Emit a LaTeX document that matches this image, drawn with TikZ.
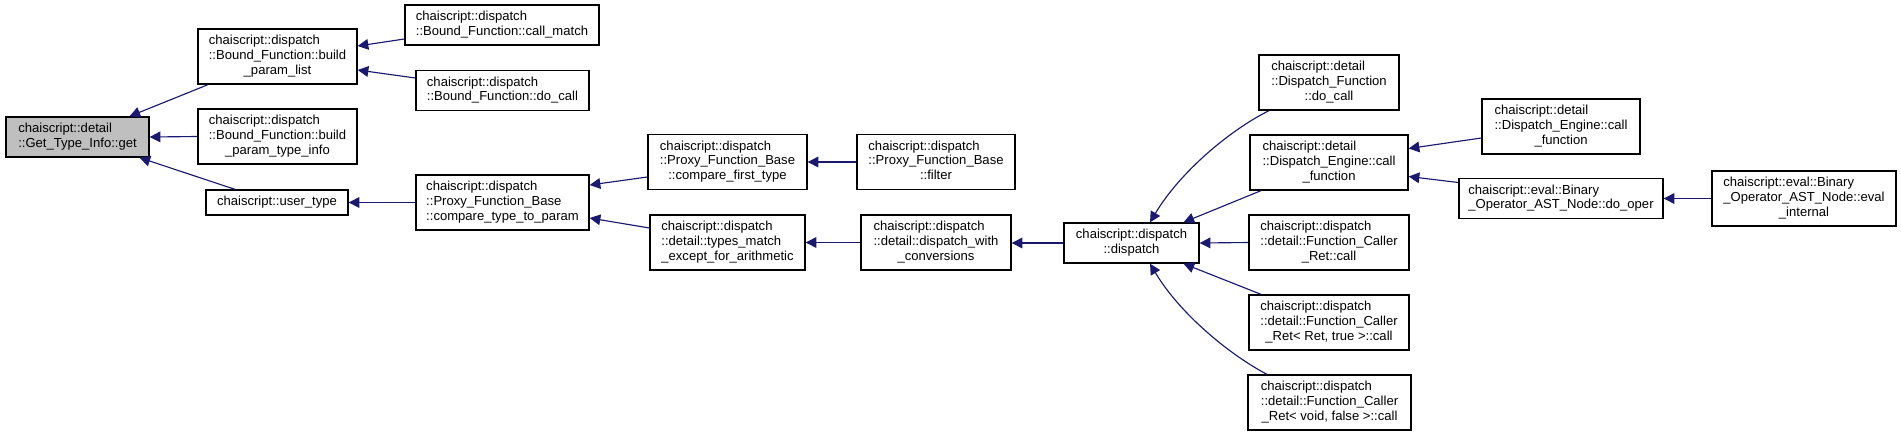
\documentclass[tikz,border=0pt]{standalone}
\usepackage{fontspec}
\setmainfont{Liberation Sans}
\usetikzlibrary{arrows.meta,calc}
\definecolor{edgeblue}{RGB}{25,25,112}
\definecolor{rootgray}{RGB}{191,191,191}
\newcommand\lb[2]{\begin{tabular}{@{}l@{}}#1\\\multicolumn{1}{@{}c@{}}{#2}\end{tabular}}
\tikzset{
  bx/.style 2 args={draw=black, line width=1pt, rectangle, inner sep=0pt, fill=white,
    minimum width=#1*0.75pt, minimum height=#2*0.75pt,
    font=\fontsize{9.8}{11}\selectfont, align=center},
  rootbx/.style={fill=rootgray},
  ar/.style={draw=edgeblue, line width=0.85pt, -{Triangle[length=8pt,width=8pt]}}
}
\begin{document}
\begin{tikzpicture}[x=0.75pt,y=-0.75pt]
\useasboundingbox (0,0) rectangle (1901,436);
\fill[white] (0,0) rectangle (1901,436);
% nodes
\node[bx={143}{40},rootbx] (get) at (77.5,137) {\lb{chaiscript::detail}{::Get\_Type\_Info::get}};
\node[bx={159}{55}] (bpl) at (277.5,56.5) {\lb{chaiscript::dispatch\\::Bound\_Function::build}{\_param\_list}};
\node[bx={159}{55}] (bpti) at (277.5,136.5) {\lb{chaiscript::dispatch\\::Bound\_Function::build}{\_param\_type\_info}};
\node[bx={142}{25}] (ut) at (277,202.5) {chaiscript::user\_type};
\node[bx={194}{40}] (cm) at (502,25) {\lb{chaiscript::dispatch}{::Bound\_Function::call\_match}};
\node[bx={173}{40}] (bdc) at (502.5,90.5) {\lb{chaiscript::dispatch}{::Bound\_Function::do\_call}};
\node[bx={173}{55}] (cttp) at (502.5,202.5) {\lb{chaiscript::dispatch\\::Proxy\_Function\_Base}{::compare\_type\_to\_param}};
\node[bx={159}{55}] (cft) at (727.5,162) {\lb{chaiscript::dispatch\\::Proxy\_Function\_Base}{::compare\_first\_type}};
\node[bx={158}{55}] (fil) at (936,162) {\lb{chaiscript::dispatch\\::Proxy\_Function\_Base}{::filter}};
\node[bx={155}{55}] (tm) at (727.5,242.5) {\lb{chaiscript::dispatch\\::detail::types\_match}{\_except\_for\_arithmetic}};
\node[bx={150}{55}] (dwc) at (936,242.5) {\lb{chaiscript::dispatch\\::detail::dispatch\_with}{\_conversions}};
\node[bx={135}{40}] (dsp) at (1131.5,243) {\lb{chaiscript::dispatch}{::dispatch}};
\node[bx={140}{55}] (dfdc) at (1329,82.5) {\lb{chaiscript::detail\\::Dispatch\_Function}{::do\_call}};
\node[bx={158}{55}] (decf) at (1329,162.5) {\lb{chaiscript::detail\\::Dispatch\_Engine::call}{\_function}};
\node[bx={160}{55}] (fcr) at (1329,242.5) {\lb{chaiscript::dispatch\\::detail::Function\_Caller}{\_Ret::call}};
\node[bx={160}{55}] (fcrt) at (1329,322.5) {\lb{chaiscript::dispatch\\::detail::Function\_Caller}{\_Ret< Ret, true >::call}};
\node[bx={163}{55}] (fcrf) at (1329.5,402.5) {\lb{chaiscript::dispatch\\::detail::Function\_Caller}{\_Ret< void, false >::call}};
\node[bx={158}{55}] (decf2) at (1561,126.5) {\lb{chaiscript::detail\\::Dispatch\_Engine::call}{\_function}};
\node[bx={204}{40}] (dop) at (1561,198.5) {\lb{chaiscript::eval::Binary}{\_Operator\_AST\_Node::do\_oper}};
\node[bx={184}{55}] (evi) at (1804,198.5) {\lb{chaiscript::eval::Binary\\\_Operator\_AST\_Node::eval}{\_internal}};
% edges
\draw[ar] ($(bpl.south)+(-69.5,0)$) -- ($(get.north)+(52,0)$);
\draw[ar] (bpti.west) -- (get.east);
\draw[ar] ($(ut.north)+(-42,0)$) -- ($(get.south)+(62,0)$);
\draw[ar] ($(cm.west)+(0,14)$) -- ($(bpl.east)+(0,-10.5)$);
\draw[ar] ($(bdc.west)+(0,-12.5)$) -- ($(bpl.east)+(0,13.5)$);
\draw[ar] (cttp.west) -- (ut.east);
\draw[ar] ($(cft.west)+(0,15)$) -- ($(cttp.east)+(0,-17.5)$);
\draw[ar] ($(tm.west)+(0,-14.5)$) -- ($(cttp.east)+(0,15.5)$);
\draw[ar] (fil.west) -- (cft.east);
\draw[ar] (dwc.west) -- (tm.east);
\draw[ar] (dsp.west) -- (dwc.east |- dsp.west);
\draw[ar] ($(dfdc.south)+(-60,0)$) .. controls (1230,130) and (1180,172) .. ($(dsp.north)+(18.5,0)$);
\draw[ar] ($(decf.south)+(-68,0)$) -- ($(dsp.north)+(52,0)$);
\draw[ar] (fcr.west) -- (dsp.east);
\draw[ar] ($(fcrt.north)+(-68,0)$) -- ($(dsp.south)+(52,0)$);
\draw[ar] ($(fcrf.north)+(-62.5,0)$) .. controls (1230,355) and (1180,314) .. ($(dsp.south)+(18.5,0)$);
\draw[ar] ($(decf2.west)+(0,11.5)$) -- ($(decf.east)+(0,-14)$);
\draw[ar] ($(dop.west)+(0,-16)$) -- ($(decf.east)+(0,14)$);
\draw[ar] (evi.west) -- (dop.east);
\end{tikzpicture}
\end{document}
